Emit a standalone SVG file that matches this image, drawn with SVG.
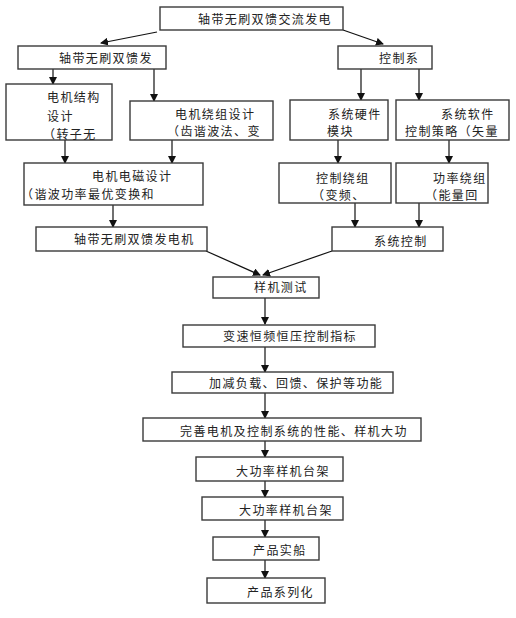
<svg xmlns="http://www.w3.org/2000/svg" width="516" height="618" viewBox="0 0 516 618">
<style>
.b{fill:#fff;stroke:#3a3a3a;stroke-width:1.4}
.t{font-family:"Liberation Sans","Noto Sans CJK SC",sans-serif;font-size:12px;letter-spacing:1.4px;fill:#222}
.c{stroke:#111;stroke-width:1.2;fill:none}
</style>
<defs>
<marker id="ah" markerWidth="8" markerHeight="8" refX="7" refY="4" orient="auto" markerUnits="userSpaceOnUse">
<path d="M0,0 L8,4 L0,8 Z" fill="#111"/>
</marker>
<clipPath id="c4"><rect x="6" y="84" width="106" height="56"/></clipPath>
<clipPath id="c5"><rect x="130" y="101" width="143" height="39"/></clipPath>
<clipPath id="c6"><rect x="290" y="100" width="98" height="40"/></clipPath>
<clipPath id="c7"><rect x="396" y="100" width="113" height="40"/></clipPath>
<clipPath id="c8"><rect x="24" y="163" width="179" height="42"/></clipPath>
<clipPath id="c10"><rect x="279" y="163" width="112" height="40"/></clipPath>
<clipPath id="c11"><rect x="396" y="163" width="92" height="40"/></clipPath>
</defs>
<rect width="516" height="618" fill="#fff"/>
<g id="connectors">
<path class="c" d="M157,32 L101,43" marker-end="url(#ah)"/>
<path class="c" d="M343,30 L383,44" marker-end="url(#ah)"/>
<path class="c" d="M53,69 L53,84" marker-end="url(#ah)"/>
<path class="c" d="M154,69 L154,101" marker-end="url(#ah)"/>
<path class="c" d="M361,69 L361,100" marker-end="url(#ah)"/>
<path class="c" d="M419,69 L419,100" marker-end="url(#ah)"/>
<path class="c" d="M65,140 L65,163" marker-end="url(#ah)"/>
<path class="c" d="M172,140 L172,163" marker-end="url(#ah)"/>
<path class="c" d="M338,140 L338,163" marker-end="url(#ah)"/>
<path class="c" d="M449,140 L449,163" marker-end="url(#ah)"/>
<path class="c" d="M113,205 L113,227" marker-end="url(#ah)"/>
<path class="c" d="M355,203 L355,227" marker-end="url(#ah)"/>
<path class="c" d="M419,203 L419,227" marker-end="url(#ah)"/>
<path class="c" d="M206,251 L260,275" marker-end="url(#ah)"/>
<path class="c" d="M332,251 L263,275" marker-end="url(#ah)"/>
<path class="c" d="M265,298 L265,324" marker-end="url(#ah)"/>
<path class="c" d="M265,347 L265,372" marker-end="url(#ah)"/>
<path class="c" d="M265,393 L265,418" marker-end="url(#ah)"/>
<path class="c" d="M265,441 L265,457" marker-end="url(#ah)"/>
<path class="c" d="M265,481 L265,497" marker-end="url(#ah)"/>
<path class="c" d="M265,520 L265,537" marker-end="url(#ah)"/>
<path class="c" d="M265,560 L265,578" marker-end="url(#ah)"/>
</g>
<g id="n1"><rect class="b" x="160" y="7" width="183" height="23"/><text class="t" x="198" y="24">轴带无刷双馈交流发电</text></g>
<g id="n2"><rect class="b" x="18" y="46" width="148" height="23"/><text class="t" x="59" y="63">轴带无刷双馈发</text></g>
<g id="n3"><rect class="b" x="338" y="46" width="94" height="23"/><text class="t" x="379" y="63">控制系</text></g>
<g id="n4"><rect class="b" x="6" y="84" width="106" height="56"/><g clip-path="url(#c4)"><text class="t" x="47" y="102">电机结构</text><text class="t" x="47" y="121">设计</text><text class="t" x="43" y="139">（转子无</text></g></g>
<g id="n5"><rect class="b" x="130" y="101" width="143" height="39"/><g clip-path="url(#c5)"><text class="t" x="175" y="119">电机绕组设计</text><text class="t" x="167" y="136">（齿谐波法、变</text></g></g>
<g id="n6"><rect class="b" x="290" y="100" width="98" height="40"/><g clip-path="url(#c6)"><text class="t" x="328" y="119">系统硬件</text><text class="t" x="327" y="136">模块</text></g></g>
<g id="n7"><rect class="b" x="396" y="100" width="113" height="40"/><g clip-path="url(#c7)"><text class="t" x="441" y="119">系统软件</text><text class="t" x="405" y="136">控制策略（矢量</text></g></g>
<g id="n8"><rect class="b" x="24" y="163" width="179" height="42"/><g clip-path="url(#c8)"><text class="t" x="92" y="181">电机电磁设计</text><text class="t" x="21" y="199">（谐波功率最优变换和</text></g></g>
<g id="n9"><rect class="b" x="36" y="227" width="171" height="24"/><text class="t" x="74" y="244">轴带无刷双馈发电机</text></g>
<g id="n10"><rect class="b" x="279" y="163" width="112" height="40"/><g clip-path="url(#c10)"><text class="t" x="316" y="183">控制绕组</text><text class="t" x="312" y="200">（变频、</text></g></g>
<g id="n11"><rect class="b" x="396" y="163" width="92" height="40"/><g clip-path="url(#c11)"><text class="t" x="433" y="183">功率绕组</text><text class="t" x="425" y="200">（能量回</text></g></g>
<g id="n12"><rect class="b" x="332" y="227" width="111" height="24"/><text class="t" x="374" y="246">系统控制</text></g>
<g id="n13"><rect class="b" x="213" y="277" width="106" height="21"/><text class="t" x="254" y="292">样机测试</text></g>
<g id="n14"><rect class="b" x="183" y="325" width="192" height="22"/><text class="t" x="223" y="341">变速恒频恒压控制指标</text></g>
<g id="n15"><rect class="b" x="172" y="372" width="221" height="21"/><text class="t" x="209" y="388">加减负载、回馈、保护等功能</text></g>
<g id="n16"><rect class="b" x="143" y="418" width="278" height="23"/><text class="t" x="180" y="436">完善电机及控制系统的性能、样机大功</text></g>
<g id="n17"><rect class="b" x="196" y="457" width="147" height="24"/><text class="t" x="236" y="476">大功率样机台架</text></g>
<g id="n18"><rect class="b" x="202" y="497" width="141" height="23"/><text class="t" x="239" y="515">大功率样机台架</text></g>
<g id="n19"><rect class="b" x="213" y="537" width="106" height="23"/><text class="t" x="253" y="555">产品实船</text></g>
<g id="n20"><rect class="b" x="207" y="578" width="118" height="25"/><text class="t" x="247" y="597">产品系列化</text></g>
</svg>
